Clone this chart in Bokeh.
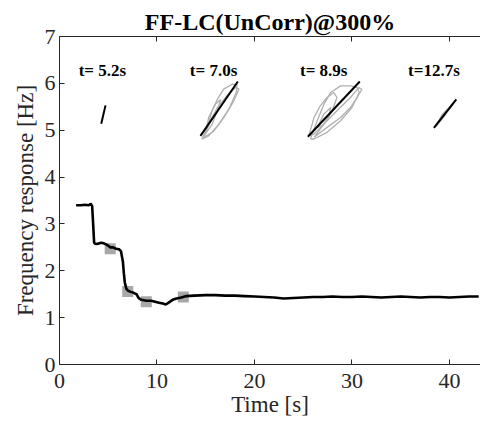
from bokeh.plotting import figure
from bokeh.models import Range1d, LinearAxis, FixedTicker, Label
from bokeh.embed import file_html
from bokeh.resources import INLINE

# ---------------- data ----------------
time_s = [1.7, 2.2, 2.6, 3.0, 3.2, 3.35, 3.45, 3.55, 3.7, 4.0, 4.3, 4.6, 4.9, 5.2,
          5.5, 5.8, 6.1, 6.3, 6.5, 6.6, 6.7, 6.85, 7.0, 7.3, 7.6, 7.9, 8.1, 8.4,
          8.9, 9.4, 9.8, 10.2, 10.6, 10.9, 11.2, 11.6, 12.0, 12.5, 13.0, 13.8,
          15, 16, 17, 18, 19, 20, 21, 22, 23, 24, 25, 26, 27, 28, 29, 30, 31,
          32, 33, 34, 35, 36, 37, 38, 39, 40, 41, 42, 43]
freq_hz = [3.40, 3.40, 3.41, 3.40, 3.43, 3.38, 3.00, 2.60, 2.57, 2.58, 2.60, 2.58,
           2.55, 2.50, 2.50, 2.47, 2.46, 2.42, 2.20, 1.95, 1.75, 1.62, 1.58, 1.55,
           1.53, 1.50, 1.42, 1.38, 1.36, 1.36, 1.34, 1.32, 1.30, 1.28, 1.32, 1.38,
           1.41, 1.43, 1.46, 1.47, 1.48, 1.48, 1.47, 1.47, 1.46, 1.45, 1.44, 1.43,
           1.41, 1.42, 1.43, 1.44, 1.44, 1.45, 1.44, 1.44, 1.45, 1.44, 1.43, 1.44,
           1.45, 1.44, 1.43, 1.44, 1.44, 1.43, 1.44, 1.45, 1.45]

marker_t = [5.2, 7.0, 8.9, 12.7]
marker_f = [2.47, 1.56, 1.34, 1.44]
inset_labels = ["t= 5.2s", "t= 7.0s", "t= 8.9s", "t=12.7s"]

x_ticks = [0, 10, 20, 30, 40]
y_ticks = [0, 1, 2, 3, 4, 5, 6, 7]

# hysteresis loops, normalised (input u, output v); linear fit goes (0,0)->(1,1)
fit_u = [0.0, 1.0]
fit_v = [0.0, 1.0]
loops_52 = []
loops_70 = [
    ([0.04, 0.18, 0.31, 0.45, 0.62, 0.85, 0.98, 0.96, 0.76, 0.49, 0.22, 0.04],
     [-0.06, 0.15, 0.46, 0.67, 0.86, 0.95, 0.94, 0.80, 0.49, 0.21, 0.00, -0.06]),
    ([0.09, 0.27, 0.45, 0.71, 0.94, 1.03, 0.89, 0.63, 0.36, 0.09],
     [-0.03, 0.28, 0.52, 0.74, 0.89, 0.86, 0.64, 0.34, 0.09, -0.03]),
    ([0.13, 0.22, 0.40, 0.54, 0.45, 0.31, 0.13],
     [0.03, 0.34, 0.58, 0.67, 0.46, 0.21, 0.03]),
]
loops_89 = [
    ([0.05, 0.18, 0.31, 0.44, 0.63, 0.83, 0.95, 0.99, 0.85, 0.63, 0.37, 0.12, 0.05],
     [-0.04, 0.29, 0.59, 0.80, 0.92, 0.92, 0.89, 0.80, 0.53, 0.29, 0.08, -0.04, -0.04]),
    ([0.02, 0.12, 0.24, 0.37, 0.50, 0.56, 0.47, 0.31, 0.12, 0.02],
     [0.02, 0.35, 0.56, 0.71, 0.80, 0.71, 0.47, 0.23, 0.05, 0.02]),
    ([0.12, 0.37, 0.63, 0.82, 0.95, 1.04, 0.98, 0.82, 0.56, 0.31, 0.12],
     [-0.01, 0.17, 0.35, 0.53, 0.71, 0.86, 0.89, 0.71, 0.47, 0.23, -0.01]),
    ([0.18, 0.31, 0.44, 0.40, 0.28, 0.18],
     [0.17, 0.41, 0.53, 0.35, 0.20, 0.17]),
]
loops_127 = [
    ([0.07, 0.44, 0.88, 0.96, 0.74, 0.29, 0.07],
     [0.08, 0.49, 0.90, 0.95, 0.70, 0.26, 0.08]),
    ([0.10, 0.35, 0.60, 0.50, 0.20, 0.10],
     [0.05, 0.45, 0.65, 0.45, 0.15, 0.05]),
]
all_loops = [loops_52, loops_70, loops_89, loops_127]

# ---------------- layout (positions of the small inset plots) ----------------
inset_boxes = [(4.28, 5.14, 4.72, 5.53), (14.46, 4.88, 18.29, 6.04),
               (25.47, 4.86, 30.8, 6.04), (38.4, 5.05, 40.7, 5.66)]
label_x = [4.4, 15.8, 27.1, 38.4]
label_y = 6.27

FONT = "Liberation Serif"
TXT = "#262626"

p = figure(width=480, height=422, output_backend="svg", toolbar_location=None,
           x_range=Range1d(0, 43.18), y_range=Range1d(0, 7),
           min_border_left=59, min_border_right=0, min_border_top=36,
           min_border_bottom=58, x_axis_label="Time [s]",
           y_axis_label="Frequency response [Hz]")
p.outline_line_color = None
p.xgrid.visible = False
p.ygrid.visible = False
p.background_fill_color = "white"

p.title.text = "FF-LC(UnCorr)@300%"
p.title.text_font = FONT
p.title.text_font_size = "24px"
p.title.text_font_style = "bold"
p.title.text_color = "black"
p.title.align = "center"
p.title.standoff = 3

for ax in (p.xaxis[0], p.yaxis[0]):
    ax.axis_label_text_font = FONT
    ax.axis_label_text_font_size = "23px"
    ax.axis_label_text_font_style = "normal"
    ax.axis_label_text_color = TXT
    ax.major_label_text_font = FONT
    ax.major_label_text_font_size = "22px"
    ax.major_label_text_color = TXT
    ax.major_tick_in = 5
    ax.major_tick_out = 0
    ax.minor_tick_in = 0
    ax.minor_tick_out = 0
    ax.axis_line_color = TXT
    ax.major_tick_line_color = TXT
p.xaxis.ticker = FixedTicker(ticks=x_ticks)
p.yaxis.ticker = FixedTicker(ticks=y_ticks)
p.xaxis.major_label_standoff = 9
p.xaxis.axis_label_standoff = 1
p.yaxis.major_label_standoff = 4
p.yaxis.axis_label_standoff = 4

top = LinearAxis(ticker=FixedTicker(ticks=x_ticks),
                 major_label_overrides={t: "" for t in x_ticks})
top.major_label_text_font_size = "1px"
top.major_label_standoff = 0
top.major_tick_in = 5
top.major_tick_out = 0
top.minor_tick_in = 0
top.minor_tick_out = 0
top.axis_line_color = TXT
top.major_tick_line_color = TXT
p.add_layout(top, "above")

# markers then main curve
p.scatter(marker_t, marker_f, marker="square", size=11, fill_color="#a8a8a8",
          line_color=None)
p.line(time_s, freq_hz, line_color="black", line_width=2.6)

# inset hysteresis loops
for box, loops in zip(inset_boxes, all_loops):
    t0, y0, t1, y1 = box
    for u, v in loops:
        xs = [t0 + a * (t1 - t0) for a in u]
        ys = [y0 + b * (y1 - y0) for b in v]
        p.line(xs, ys, line_color="#b0b0b0", line_width=1.3)
    fx = [t0 + a * (t1 - t0) for a in fit_u]
    fy = [y0 + b * (y1 - y0) for b in fit_v]
    p.line(fx, fy, line_color="black", line_width=2)

for lx, txt in zip(label_x, inset_labels):
    p.add_layout(Label(x=lx, y=label_y, text=txt, text_align="center",
                       text_baseline="alphabetic", text_font=FONT,
                       text_font_size="17px", text_font_style="bold",
                       text_color="black"))

open("out.html", "w").write(file_html(p, INLINE))
